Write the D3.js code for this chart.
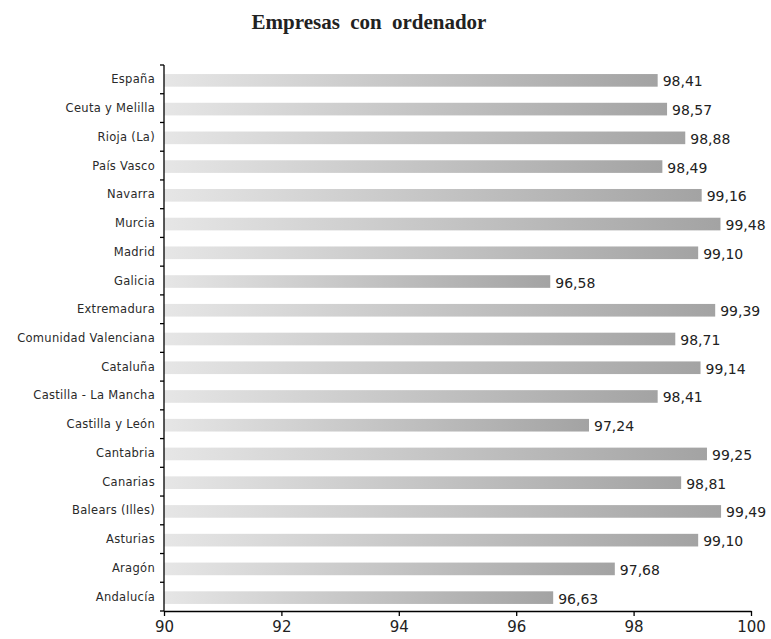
<!DOCTYPE html>
<html>
<head>
<meta charset="utf-8">
<script src="https://cdn.jsdelivr.net/npm/d3@7"></script>
<style>
  body { margin: 0; background: #fff; }
  .cat text { font-family: "DejaVu Sans", sans-serif; font-size: 11.5px; letter-spacing: 0.3px; fill: #2a2a2a; }
  .xax text { font-family: "DejaVu Sans", sans-serif; font-size: 15px; fill: #222; }
  .val { font-family: "DejaVu Sans", sans-serif; font-size: 14px; fill: #222; }
</style>
</head>
<body>
<div id="chart"></div>
<script>
// data
var regiones = ["España", "Ceuta y Melilla", "Rioja (La)", "País Vasco", "Navarra", "Murcia",
    "Madrid", "Galicia", "Extremadura", "Comunidad Valenciana", "Cataluña",
    "Castilla - La Mancha", "Castilla y León", "Cantabria", "Canarias", "Balears (Illes)",
    "Asturias", "Aragón", "Andalucía"];
var valores = [98.41, 98.57, 98.88, 98.49, 99.16, 99.48, 99.10, 96.58, 99.39, 98.71, 99.14,
    98.41, 97.24, 99.25, 98.81, 99.49, 99.10, 97.68, 96.63];
var xTicks = [90, 92, 94, 96, 98, 100];

var margin = {top: 65, left: 164};
var height = 611 - margin.top;

var svg = d3.select("#chart").append("svg")
    .attr("width", 771)
    .attr("height", 639);

// gradient for each bar, light on the left and dark on the right
var grad = svg.append("defs").append("linearGradient")
    .attr("id", "barGrad")
    .attr("x1", "0").attr("x2", "1").attr("y1", "0").attr("y2", "0");
grad.append("stop").attr("offset", "0%").attr("stop-color", "#e6e6e6");
grad.append("stop").attr("offset", "100%").attr("stop-color", "#a3a3a3");

svg.append("text")
    .attr("x", 369)
    .attr("y", 29)
    .attr("text-anchor", "middle")
    .style("font-family", "Liberation Serif, serif")
    .style("font-weight", "bold")
    .style("font-size", "21px")
    .style("word-spacing", "5px")
    .attr("fill", "#222")
    .text("Empresas con ordenador");

var g = svg.append("g")
    .attr("transform", "translate(" + margin.left + "," + margin.top + ")");

var x = d3.scaleLinear().domain([90, 100]).range([0, 587]);
var y = d3.scaleBand().domain(regiones).range([0, height]).paddingInner(0.56).paddingOuter(0.28);

g.selectAll(".bar")
    .data(regiones)
    .enter()
    .append("rect")
    .attr("class", "bar")
    .attr("x", x(90))
    .attr("y", function(d) { return y(d) + 1; })
    .attr("height", y.bandwidth())
    .attr("width", function(d, i) { return x(valores[i]) - x(90); })
    .attr("fill", "url(#barGrad)");

g.selectAll(".val")
    .data(regiones)
    .enter()
    .append("text")
    .attr("class", "val")
    .attr("x", function(d, i) { return x(valores[i]) + 5; })
    .attr("y", function(d) { return y(d) + y.bandwidth() / 2 + 7; })
    .text(function(d, i) { return valores[i].toFixed(2).replace(".", ","); });

// y axis: ticks sit between the categories
var step = height / regiones.length;
var yAxis = g.append("g").attr("class", "cat");
yAxis.append("line")
    .attr("x1", 0).attr("x2", 0).attr("y1", 0).attr("y2", height)
    .attr("stroke", "#000").attr("stroke-width", 1.3);
yAxis.selectAll(".tk")
    .data(d3.range(regiones.length + 1))
    .enter()
    .append("line")
    .attr("x1", -4).attr("x2", 0)
    .attr("y1", function(i) { return i * step; })
    .attr("y2", function(i) { return i * step; })
    .attr("stroke", "#000").attr("stroke-width", 1.3);
yAxis.selectAll("text")
    .data(regiones)
    .enter()
    .append("text")
    .attr("x", -9)
    .attr("y", function(d) { return y(d) + y.bandwidth() / 2 + 4; })
    .attr("text-anchor", "end")
    .text(function(d) { return d; });

// x axis
var xAxis = g.append("g")
    .attr("class", "xax")
    .attr("transform", "translate(0," + height + ")")
    .call(d3.axisBottom(x).tickValues(xTicks).tickSize(5).tickPadding(5).tickSizeOuter(0));
xAxis.select(".domain").attr("stroke-width", 1.3);
xAxis.selectAll(".tick line").attr("stroke-width", 1.3);
xAxis.selectAll(".tick text").attr("fill", "#222");
</script>
</body>
</html>
